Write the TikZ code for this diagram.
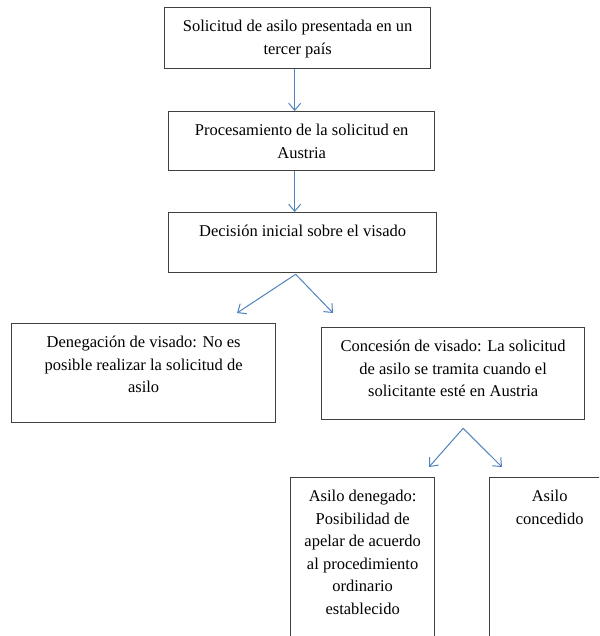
\documentclass[tikz,border=0pt]{standalone}
\usepackage{fontspec}
\setmainfont{Liberation Serif}
\usetikzlibrary{arrows.meta}
\definecolor{flechaazul}{HTML}{4F81BD}
\definecolor{bordegris}{HTML}{404040}
% text block of a box: width, height, lines
\newcommand{\cajatexto}[3]{\parbox[t][#2pt][t]{#1pt}{\vspace{8.5pt}\centering\strut#3}}

\begin{document}
\begin{tikzpicture}[x=1pt,y=-1pt]
  \tikzset{>={Straight Barb[length=7pt,width=12pt]},
    caja/.style={draw=bordegris,line width=1.3pt,inner sep=0pt,anchor=north west,
      font=\fontsize{16.5}{22.5}\selectfont},
    flecha/.style={->,draw=flechaazul,line width=1pt}}
  \useasboundingbox (0,0) rectangle (599,636);
  \clip (0,0) rectangle (599,636);
  \node[caja] (solicitud) at (164,7)
    {\cajatexto{266}{61}{Solicitud de asilo presentada en un\\ tercer país}};
  \node[caja] (procesamiento) at (168,111)
    {\cajatexto{266}{59}{Procesamiento de la solicitud en\\ Austria}};
  \node[caja] (decision) at (168,212)
    {\cajatexto{268}{60}{Decisión inicial sobre el visado}};
  \node[caja] (denegacion) at (11,323)
    {\cajatexto{264}{99}{Denegación de visado: No es\\ posible realizar la solicitud de\\ asilo}};
  \node[caja] (concesion) at (321,327)
    {\cajatexto{263}{92}{Concesión de visado: La solicitud\\ de asilo se tramita cuando el\\ solicitante esté en Austria}};
  \node[caja] (denegado) at (290,477)
    {\cajatexto{144}{200}{Asilo denegado:\\ Posibilidad de\\ apelar de acuerdo\\ al procedimiento\\ ordinario\\ establecido}};
  \node[caja] (concedido) at (489,477)
    {\cajatexto{120}{200}{Asilo\\ concedido}};
  % free ends of the branching arrows
  \coordinate (haciadenegacion) at (237,313);
  \coordinate (haciaconcesion) at (333,313);
  \coordinate (haciadenegado) at (429,467);
  \coordinate (haciaconcedido) at (502,467);
  \draw[flecha] ([xshift=-3pt]solicitud.south) -- ([xshift=-3pt]solicitud.south |- procesamiento.north);
  \draw[flecha] ([xshift=-7pt]procesamiento.south) -- ([xshift=-7pt]procesamiento.south |- decision.north);
  \draw[flecha] ([shift={(-7pt,-1pt)}]decision.south) -- (haciadenegacion);
  \draw[flecha] ([shift={(-7pt,-1pt)}]decision.south) -- (haciaconcesion);
  \draw[flecha] ([shift={(10pt,-8pt)}]concesion.south) -- (haciadenegado);
  \draw[flecha] ([shift={(10pt,-8pt)}]concesion.south) -- (haciaconcedido);
\end{tikzpicture}
\end{document}
